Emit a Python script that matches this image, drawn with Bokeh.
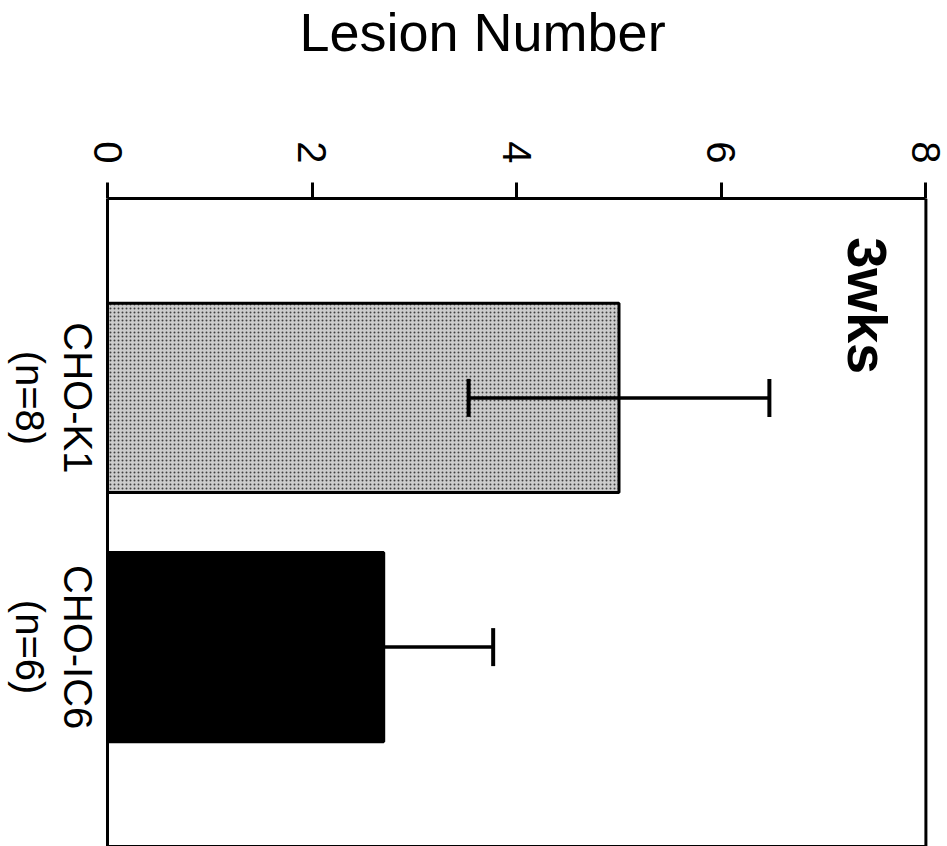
import math
from bokeh.plotting import figure
from bokeh.layouts import column
from bokeh.models import (FactorRange, Range1d, ColumnDataSource, Whisker, TeeHead,
                          Label, FixedTicker, LinearAxis, Span)
from bokeh.core.properties import value
from bokeh.embed import file_html
from bokeh.resources import INLINE

# ---- data ----
categories = ["CHO-K1", "CHO-IC6"]
group_sizes = [8, 6]
lesion_means = [5.0, 2.7]
lesion_sem = [1.47, 1.07]
value_ticks = [0, 2, 4, 6, 8]
axis_max = 8
period_label = "3wks"
value_title = "Lesion Number"

n_labels = [f"(n={n})" for n in group_sizes]
lower = [m - e for m, e in zip(lesion_means, lesion_sem)]
upper = [m + e for m, e in zip(lesion_means, lesion_sem)]

src = ColumnDataSource(dict(
    cat=categories, nlab=n_labels, mean=lesion_means, lower=lower, upper=upper,
    fill=["#cccccc", "#000000"], hatch=["dot", " "],
))

FONT = "Liberation Sans"
PAD = 0.3
TITLE_H = 70
W, H = 947, 846
RIGHT_BORDER = 19
PX = 102.3            # pixels per value unit
ZERO_PX = 107         # where value 0 sits
x_start = -ZERO_PX / PX
x_end = axis_max + (W - RIGHT_BORDER - ZERO_PX - axis_max * PX) / PX

x_range = Range1d(x_start, x_end)
y_range = FactorRange(factors=categories[::-1], range_padding=PAD)

# ---- title strip ----
tf = figure(width=W, height=TITLE_H, x_range=x_range, y_range=Range1d(0, 1),
            x_axis_location=None, y_axis_location=None,
            output_backend="svg", toolbar_location=None,
            min_border_left=0, min_border_right=RIGHT_BORDER,
            min_border_top=0, min_border_bottom=0)
tf.xgrid.visible = False
tf.ygrid.visible = False
tf.outline_line_color = None
tf.text(x=[3.666], y=[0.557], text=[value_title], text_align="center",
        text_baseline="middle", text_font=value(FONT),
        text_font_size="54px", text_color="black")

# ---- main chart ----
p = figure(width=W, height=H - TITLE_H,
           y_range=y_range, x_range=x_range, x_axis_location="above",
           y_axis_location=None,
           output_backend="svg", toolbar_location=None,
           min_border_left=0, min_border_right=RIGHT_BORDER,
           min_border_top=198 - TITLE_H, min_border_bottom=0)

p.hbar(y="cat", left=0, right="mean", height=0.76, source=src,
       fill_color="fill", line_color="black", line_width=3,
       hatch_pattern="hatch", hatch_color="#111111", hatch_scale=4,
       hatch_weight=1, hatch_alpha=0.75)

w = Whisker(source=src, base="cat", lower="lower", upper="upper",
            dimension="width", line_width=3.5, line_color="black", level="overlay",
            upper_head=TeeHead(size=38, line_width=4, line_color="black"),
            lower_head=TeeHead(size=38, line_width=4, line_color="black"))
p.add_layout(w)

# category labels (rotated, reading top to bottom) left of value 0
p.text(x=(77 - ZERO_PX) / PX, y="cat", text="cat", source=src, angle=-math.pi / 2,
       text_align="center", text_baseline="middle",
       text_font=value(FONT), text_font_size="40px", text_color="black")
p.text(x=(29.5 - ZERO_PX) / PX, y="cat", text="nlab", source=src, angle=-math.pi / 2,
       text_align="center", text_baseline="middle",
       text_font=value(FONT), text_font_size="40px", text_color="black")

p.add_layout(Label(x=7.43, y=1.87, text=period_label, angle=-math.pi / 2,
                   text_align="center", text_baseline="middle",
                   text_font_size="56px", text_font_style="bold",
                   text_font=FONT, text_color="black"))

# box sides at value 0 and value 8
p.add_layout(Span(location=0, dimension="height", line_color="black", line_width=3))
p.add_layout(Span(location=axis_max, dimension="height", line_color="black", line_width=3))

xa = p.xaxis[0]
xa.bounds = (0, axis_max)
xa.ticker = FixedTicker(ticks=value_ticks)
xa.major_label_orientation = -math.pi / 2
xa.major_label_text_font = FONT
xa.major_label_text_font_size = "40px"
xa.major_label_text_color = "black"
xa.major_label_standoff = 19
xa.major_tick_out = 16
xa.major_tick_in = 0
xa.minor_tick_line_color = None
xa.axis_line_width = 3
xa.major_tick_line_width = 3
xa.axis_line_color = "black"
xa.major_tick_line_color = "black"

# bottom side of the box
bx = LinearAxis(bounds=(0, axis_max), ticker=FixedTicker(ticks=[]),
                axis_line_width=3, axis_line_color="black",
                major_tick_out=0, major_tick_in=0, minor_tick_out=0, minor_tick_in=0,
                major_label_standoff=0, major_tick_line_color=None,
                minor_tick_line_color=None)
p.add_layout(bx, "below")

p.xgrid.visible = False
p.ygrid.visible = False
p.outline_line_color = None
p.background_fill_color = "white"
p.border_fill_color = "white"

layout = column(tf, p, spacing=0)

open("out.html", "w").write(file_html(layout, INLINE))
